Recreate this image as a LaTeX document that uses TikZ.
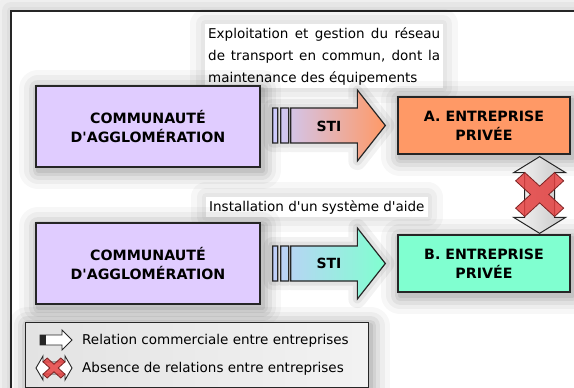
\documentclass[tikz,border=0pt]{standalone}
\usepackage{fontspec}
\setmainfont{DejaVu Sans}[Ligatures=TeXOff]
\usetikzlibrary{calc}
\definecolor{AggloPurple}{RGB}{224,204,255}
\definecolor{FirmOrange}{RGB}{255,153,102}
\definecolor{FirmGreen}{RGB}{128,255,208}
\definecolor{StiLavender}{RGB}{204,204,255}
\definecolor{StiBlue}{RGB}{192,206,250}
\definecolor{CrossRed}{RGB}{228,64,64}

\tikzset{
  glow/.style={
    preaction={draw=black, draw opacity=0.03, line width=38pt, line join=round, transform canvas={shift={(2pt,-3pt)}}},
    preaction={draw=black, draw opacity=0.04, line width=28pt, line join=round, transform canvas={shift={(2pt,-3pt)}}},
    preaction={draw=black, draw opacity=0.05, line width=19pt, line join=round, transform canvas={shift={(2pt,-3pt)}}},
    preaction={draw=black, draw opacity=0.06, line width=11pt, line join=round, transform canvas={shift={(2pt,-3pt)}}},
    preaction={draw=black, draw opacity=0.07, line width=5pt, line join=round, transform canvas={shift={(2pt,-3pt)}}}},
  textglow/.style={
    preaction={draw=black, draw opacity=0.03, line width=30pt, line join=round},
    preaction={draw=black, draw opacity=0.035, line width=18pt, line join=round},
    preaction={draw=black, draw opacity=0.03, line width=8pt, line join=round}},
  arrowglow/.style={
    preaction={draw=black, draw opacity=0.05, line width=18pt, line join=round},
    preaction={draw=black, draw opacity=0.06, line width=9pt, line join=round}},
  bigbox/.style={draw=black!85, line width=1.3pt, glow, align=center,
    minimum width=224pt, minimum height=81pt, font=\fontsize{14.2}{19.5}\selectfont\bfseries},
  firmbox/.style={bigbox, minimum width=172pt, minimum height=57pt},
  tasktext/.style={fill=white, textglow, inner sep=3pt},
  stilink/.style={draw=black!85, line width=1.2pt, arrowglow},
  stilabel/.style={inner sep=0pt, font=\fontsize{14}{16}\selectfont\bfseries},
  nolink/.style={draw=black!85, line width=1pt, left color=black!4, right color=black!22},
  cross/.style={fill=CrossRed, fill opacity=0.85, draw=CrossRed!55!black, line width=0.8pt},
  legendbox/.style={draw=black!85, line width=1pt, left color=black!11, right color=black!5, glow},
}

\begin{document}
\begin{tikzpicture}[x=1pt, y=-1pt, every node/.style={font=\fontsize{13.5}{22}\selectfont}]
    \useasboundingbox (0,0) rectangle (574,388);
    \fill[black!3] (0,0) rectangle (574,388);

    % --- outer frame ---
    \draw[black!85, line width=1.3pt, fill=white, textglow] (11,11) rectangle (600,410);

    % --- task descriptions ---
    \node[tasktext, anchor=base west, text width=232pt, align=justify] (taskA) at (205,38)
        {Exploitation et gestion du réseau\linebreak de transport en commun, dont la\linebreak maintenance des équipements};
    \node[tasktext, anchor=base west] (taskB) at (206,211) {Installation d'un système d'aide};

    % --- public authority and firms ---
    \node[bigbox, fill=AggloPurple] (agglo1) at (148,126.5) {COMMUNAUTÉ\\D'AGGLOMÉRATION};
    \node[firmbox, fill=FirmOrange] (firmA) at (484,125.5) {A. ENTREPRISE\\PRIVÉE};
    \node[bigbox, fill=AggloPurple] (agglo2) at (148,263.5) {COMMUNAUTÉ\\D'AGGLOMÉRATION};
    \node[firmbox, fill=FirmGreen] (firmB) at (484,263.5) {B. ENTREPRISE\\PRIVÉE};

    % --- STI contracts (commercial relations) ---
    \path[stilink, left color=StiLavender, right color=FirmOrange]
        let \p1=(agglo1.east), \p2=(firmA.west) in
        (\x1+12,\y2+17.5) rectangle (\x1+17,\y2-17.5)
        (\x1+20,\y2+17.5) rectangle (\x1+28,\y2-17.5)
        (\x1+30,\y2+17.5) -- (\x2-40,\y2+17.5) -- (\x2-40,\y2+35.5) -- (\x2-12,\y2)
        -- (\x2-40,\y2-35.5) -- (\x2-40,\y2-17.5) -- (\x1+30,\y2-17.5) -- cycle;
    \node[stilabel] (stiA) at ($(agglo1.east)!0.5!(firmA.west)$) {STI};

    \path[stilink, left color=StiBlue, right color=FirmGreen]
        let \p1=(agglo2.east), \p2=(firmB.west) in
        (\x1+12,\y2+17.5) rectangle (\x1+17,\y2-17.5)
        (\x1+20,\y2+17.5) rectangle (\x1+28,\y2-17.5)
        (\x1+30,\y2+17.5) -- (\x2-40,\y2+17.5) -- (\x2-40,\y2+35.5) -- (\x2-12,\y2)
        -- (\x2-40,\y2-35.5) -- (\x2-40,\y2-17.5) -- (\x1+30,\y2-17.5) -- cycle;
    \node[stilabel] (stiB) at ($(agglo2.east)!0.5!(firmB.west)$) {STI};

    % --- no relation between the two firms ---
    \path[nolink]
        let \p1=(firmA.south east), \p2=(firmB.north east) in
        (\x1-31,\y1-2) -- (\x1-5,\y1-18) -- (\x1-16,\y1-18) -- (\x1-16,\y2+17) -- (\x1-5,\y2+17)
        -- (\x1-31,\y2+1) -- (\x1-57,\y2+17) -- (\x1-46,\y2+17) -- (\x1-46,\y1-18) -- (\x1-57,\y1-18) -- cycle;
    \coordinate (nolinkmid) at ($(firmA.south east)!0.5!(firmB.north east)+(-31,0)$);
    \begin{scope}[shift={(nolinkmid)}, xscale=24, yscale=22]
        \path[cross] (0,0.38) -- (0.62,1) -- (1,0.62) -- (0.38,0) -- (1,-0.62) -- (0.62,-1) -- (0,-0.38)
            -- (-0.62,-1) -- (-1,-0.62) -- (-0.38,0) -- (-1,0.62) -- (-0.62,1) -- cycle;
    \end{scope}

    % --- legend ---
    \node[legendbox, anchor=north west, minimum width=343pt, minimum height=65pt] (legend) at (25,322) {};
    \draw[black!85, line width=0.9pt, fill=white] (40,335) -- (62,335) -- (62,330) -- (72,340) -- (62,350) -- (62,345) -- (40,345) -- cycle;
    \fill[black!85] (40,335) rectangle (46,345);
    \node[inner sep=0pt, anchor=base west] (legendlink) at (82,344.5) {Relation commerciale entre entreprises};

    \draw[black!85, line width=0.9pt, fill=white] (36,368) -- (43,356) -- (43,362) -- (65,362) -- (65,356) -- (72,368)
        -- (65,380) -- (65,374) -- (43,374) -- (43,380) -- cycle;
    \begin{scope}[shift={(54,368)}, xscale=11, yscale=10]
        \path[cross] (0,0.38) -- (0.62,1) -- (1,0.62) -- (0.38,0) -- (1,-0.62) -- (0.62,-1) -- (0,-0.38)
            -- (-0.62,-1) -- (-1,-0.62) -- (-0.38,0) -- (-1,0.62) -- (-0.62,1) -- cycle;
    \end{scope}
    \node[inner sep=0pt, anchor=base west] (legendnolink) at (82,372.5) {Absence de relations entre entreprises};

\end{tikzpicture}
\end{document}
